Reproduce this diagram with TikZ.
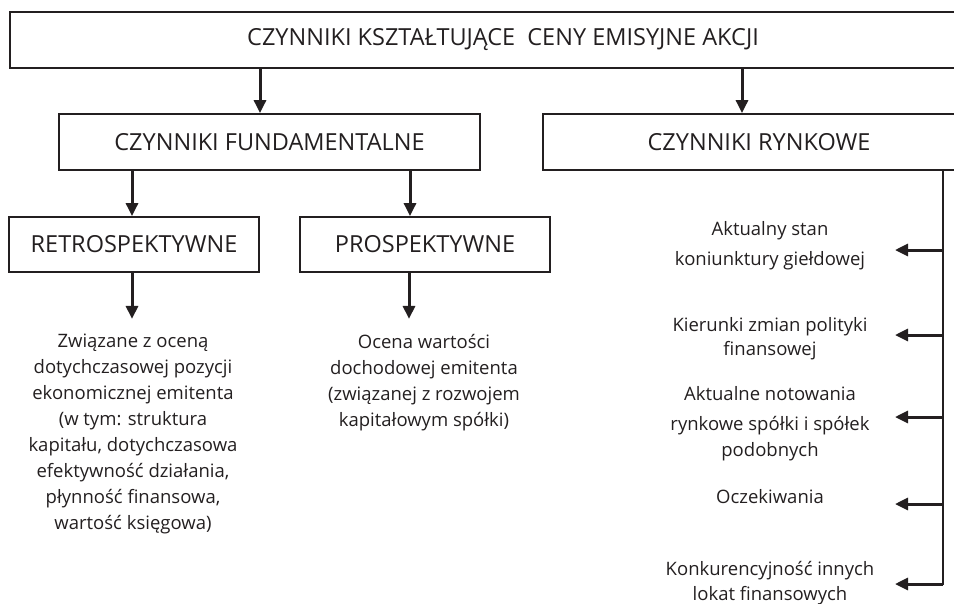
\documentclass[tikz,border=0pt]{standalone}
\usepackage{fontspec}
\setmainfont{Open Sans}
\usetikzlibrary{arrows.meta,positioning}
\definecolor{ink}{HTML}{231F20}

\begin{document}
\begin{tikzpicture}[x=1pt, y=-1pt, line/.style={-{Triangle[length=13pt,width=12pt]},line width=3pt,draw=ink}, block/.style={rectangle,draw=ink,line width=1.8pt,minimum height=56pt,inner sep=0pt,text=ink,font=\fontsize{23.5}{28}\selectfont}, note/.style={align=center,anchor=north,inner sep=0pt,text=ink,font=\fontsize{18.5}{26}\selectfont}]
\useasboundingbox (0,0) rectangle (954,603);
\clip (0,0) rectangle (954,603);
\node[block,minimum width=986pt] (main) at (503,40) {CZYNNIKI KSZTAŁTUJĄCE~ CENY EMISYJNE AKCJI};
\node[block,minimum width=421pt] (fund) at (269.5,142) {CZYNNIKI FUNDAMENTALNE};
\node[block,minimum width=432pt] (rynk) at (759,142) {CZYNNIKI RYNKOWE};
\node[block,minimum width=250pt,minimum height=55pt] (retro) at (134,244.5) {RETROSPEKTYWNE};
\node[block,minimum width=250pt,minimum height=55pt] (prosp) at (425,244.5) {PROSPEKTYWNE};
\node[note] (retrotxt) at (133,334) {Związane z oceną\\dotychczasowej pozycji\\ekonomicznej emitenta\\(w tym: struktura\\kapitału, dotychczasowa\\efektywność działania,\\płynność finansowa,\\wartość księgowa)};
\node[note] (prosptxt) at (424,334) {Ocena wartości\\dochodowej emitenta\\(związanej z rozwojem\\kapitałowym spółki)};
\node[note] (stan) at (770,221) {Aktualny stan\\[4pt]koniunktury giełdowej};
\node[note] (polit) at (770,317) {Kierunki zmian polityki\\[-2pt]finansowej};
\node[note] (notow) at (770,386) {Aktualne notowania\\[4pt]rynkowe spółki i spółek\\podobnych};
\node[note] (oczek) at (770,489) {Oczekiwania};
\node[note] (konk) at (770,561) {Konkurencyjność innych\\[-1pt]lokat finansowych};
% arrows between the boxes
\draw[line] ([xshift=-9.5pt]main.south -| fund) -- ([xshift=-9.5pt]fund.north);
\draw[line] ([xshift=-17pt]main.south -| rynk) -- ([xshift=-17pt]rynk.north);
\draw[line] ([xshift=-2pt]fund.south -| retro.north) -- ([xshift=-2pt]retro.north);
\draw[line] ([xshift=-15pt]fund.south -| prosp.north) -- ([xshift=-15pt]prosp.north);
\draw[line] ([xshift=-2pt]retro.south) -- ++(0,46);
\draw[line] ([xshift=-16pt]prosp.south) -- ++(0,46);
% right branch
\coordinate (rbot) at (943,585);
\draw[draw=ink,line width=2pt] (rynk.south -| rbot) -- (rbot);
\foreach \k/\y in {1/250,2/335,3/417,4/504,5/584} {
  \coordinate (a\k) at (943,\y);
  \coordinate (b\k) at (895,\y);
  \draw[line] (a\k) -- (b\k);
}
\end{tikzpicture}
\end{document}
